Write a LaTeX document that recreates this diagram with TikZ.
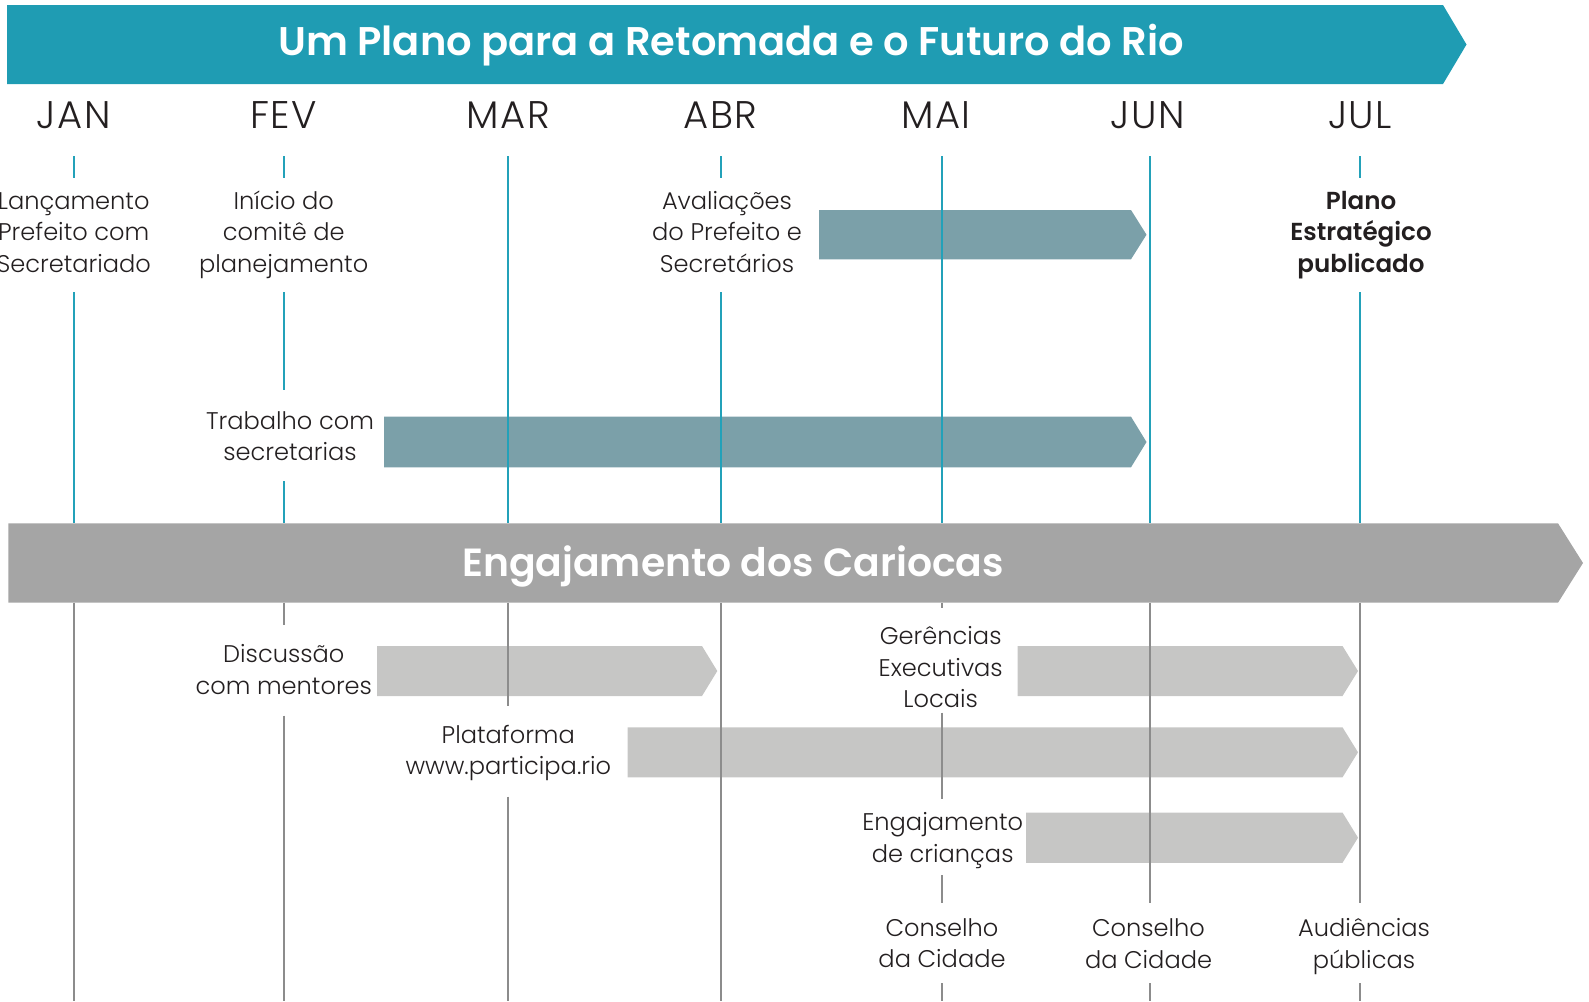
\documentclass[tikz,border=0pt]{standalone}
\usepackage{fontspec}
\setmainfont{Poppins Light}
\newfontfamily\bfam{Poppins SemiBold}
\newfontfamily\mfam{Poppins Light}[LetterSpace=4]
\definecolor{cTeal}{HTML}{1F9CB3}
\definecolor{cTealLine}{HTML}{23A1B9}
\definecolor{cSlate}{HTML}{7BA0A9}
\definecolor{cGreyBan}{HTML}{A5A5A5}
\definecolor{cLight}{HTML}{C6C6C5}
\definecolor{cGreyLine}{HTML}{8C8C8C}
\definecolor{cText}{HTML}{231F20}
\begin{document}
\begin{tikzpicture}[x=1pt,y=-1pt,
  lbl/.style={font=\fontsize{24.1}{31.3}\selectfont, text=cText, align=center, inner sep=0pt, anchor=base},
  blbl/.style={font=\bfam\fontsize{24.6}{31.3}\selectfont, text=cText, align=center, inner sep=0pt, anchor=base},
  month/.style={font=\mfam\fontsize{38.5}{42}\selectfont, text=cText, inner sep=0pt, anchor=base},
  ttl/.style={font=\bfam\fontsize{40}{44}\selectfont, text=white, inner sep=0pt, anchor=base},
  tline/.style={draw=cTealLine, line width=2pt},
  gline/.style={draw=cGreyLine, line width=2pt}]
\useasboundingbox (0,0) rectangle (1589,1001);
% x positions of months
\def\xJAN{73.7}\def\xFEV{283.7}\def\xMAR{508.3}\def\xABR{720.7}
\def\xMAI{942}\def\xJUN{1149.5}\def\xJUL{1360}
% top banner
\fill[cTeal] (7,5) -- (1443,5) -- (1466.5,44.5) -- (1443,84) -- (7,84) -- cycle;
\node[ttl] (title) at (731,55) {Um Plano para a Retomada e o Futuro do Rio};
% months
\node[month] (jan) at (\xJAN,128.3) {JAN};
\node[month] (fev) at (\xFEV,128.3) {FEV};
\node[month] (mar) at (\xMAR,128.3) {MAR};
\node[month] (abr) at (\xABR,128.3) {ABR};
\node[month] (mai) at (936,128.3) {MAI};
\node[month] (jun) at (1148,128.3) {JUN};
\node[month] (jul) at (\xJUL,128.3) {JUL};
% slate arrows
\fill[cSlate] (819,210) -- (1131,210) -- (1146.5,234.7) -- (1131,259.3) -- (819,259.3) -- cycle;
\fill[cSlate] (384,416.7) -- (1131,416.7) -- (1146.5,442) -- (1131,467.3) -- (384,467.3) -- cycle;
% top labels (anchor = baseline of last line)
\node[lbl] (lanc) at (\xJAN,272) {Lançamento\\Prefeito com\\Secretariado};
\node[lbl] (inic) at (\xFEV,272) {Início do\\comitê de\\planejamento};
\node[lbl] (aval) at (727,272) {Avaliações\\do Prefeito e\\Secretários};
\node[blbl] (plano) at (1361,272) {Plano\\Estratégico\\publicado};
\node[lbl] (trab) at (290,460.7) {Trabalho com\\secretarias};
% teal lines
\draw[tline] (\xJAN,156) -- (\xJAN,178) (\xJAN,292) -- (\xJAN,523.3);
\draw[tline] (\xFEV,156) -- (\xFEV,178) (\xFEV,292) -- (\xFEV,390) (\xFEV,481) -- (\xFEV,523.3);
\draw[tline] (\xMAR,156) -- (\xMAR,523.3);
\draw[tline] (\xABR,156) -- (\xABR,178) (\xABR,292) -- (\xABR,523.3);
\draw[tline] (\xMAI,156) -- (\xMAI,523.3);
\draw[tline] (\xJUN,156) -- (\xJUN,523.3);
\draw[tline] (\xJUL,156) -- (\xJUL,178) (\xJUL,292) -- (\xJUL,523.3);
% grey banner
\fill[cGreyBan] (8.3,523.3) -- (1558,523.3) -- (1583,563) -- (1558,602.7) -- (8.3,602.7) -- cycle;
\node[ttl, font=\bfam\fontsize{39.3}{44}\selectfont] (eng) at (733,576.7) {Engajamento dos Cariocas};
% light arrows
\fill[cLight] (377,646) -- (702,646) -- (717.3,671) -- (702,696) -- (377,696) -- cycle;
\fill[cLight] (1017.7,646) -- (1342.5,646) -- (1358,671) -- (1342.5,696) -- (1017.7,696) -- cycle;
\fill[cLight] (627.7,727.3) -- (1342.5,727.3) -- (1358,752.3) -- (1342.5,777.3) -- (627.7,777.3) -- cycle;
\fill[cLight] (1026,812.5) -- (1342.5,812.5) -- (1358,837.7) -- (1342.5,862.8) -- (1026,862.8) -- cycle;
% bottom labels (anchor = baseline of last line)
\node[lbl] (disc) at (283.8,694) {Discussão\\com mentores};
\node[lbl] (ger) at (940.7,707.3) {Gerências\\Executivas\\Locais};
\node[lbl] (plat) at (\xMAR,774.3) {Plataforma\\www.participa.rio};
\node[lbl] (crian) at (942.7,862) {Engajamento\\de crianças};
\node[lbl] (cons1) at (\xMAI,967.3) {Conselho\\da Cidade};
\node[lbl] (cons2) at (1148.5,968) {Conselho\\da Cidade};
\node[lbl] (aud) at (1364,968) {Audiências\\públicas};
% grey lines
\draw[gline] (\xJAN,602.7) -- (\xJAN,1001);
\draw[gline] (\xFEV,602.7) -- (\xFEV,625) (\xFEV,715.5) -- (\xFEV,1001);
\draw[gline] (\xMAR,602.7) -- (\xMAR,706) (\xMAR,796.7) -- (\xMAR,1001);
\draw[gline] (\xABR,602.7) -- (\xABR,1001);
\draw[gline] (\xMAI,602.7) -- (\xMAI,608) (\xMAI,712.7) -- (\xMAI,799.3) (\xMAI,875) -- (\xMAI,903.3) (\xMAI,983) -- (\xMAI,1001);
\draw[gline] (\xJUN,602.7) -- (\xJUN,903.3) (\xJUN,983) -- (\xJUN,1001);
\draw[gline] (\xJUL,602.7) -- (\xJUL,903.3) (\xJUL,983) -- (\xJUL,1001);
\end{tikzpicture}
\end{document}
